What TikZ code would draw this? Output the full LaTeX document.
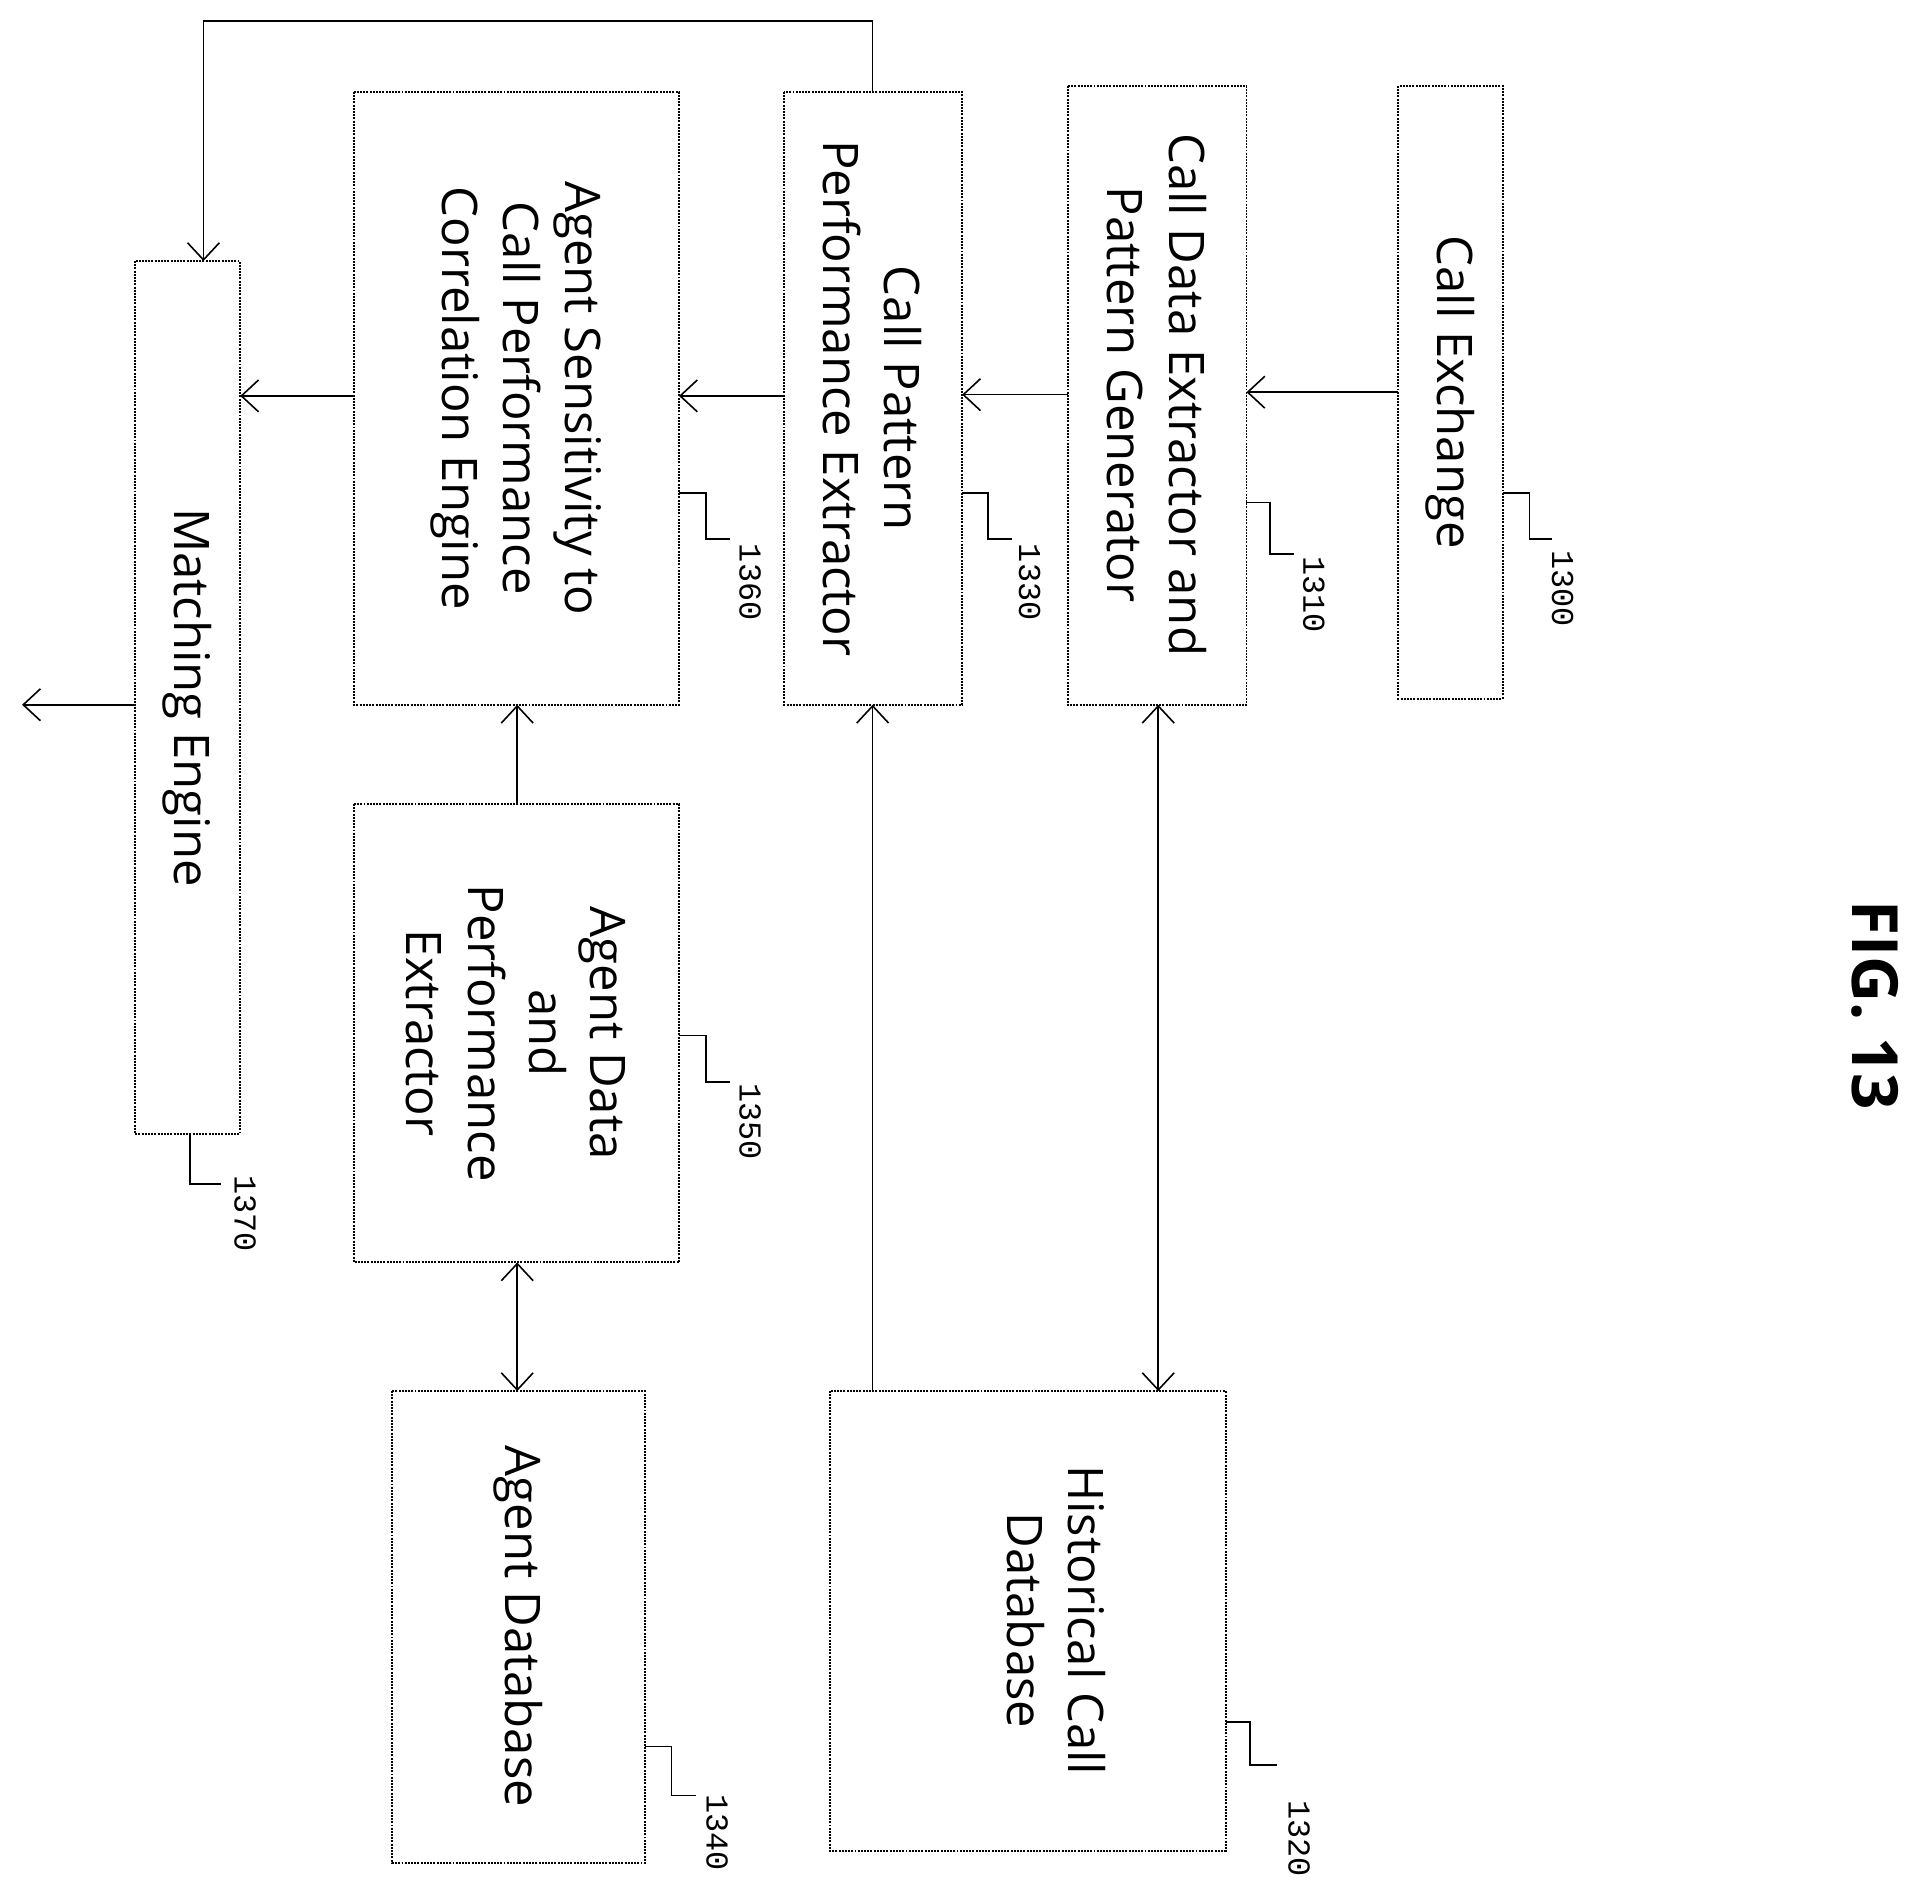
\documentclass[tikz,border=0pt]{standalone}
\usepackage{fontspec}
\setmainfont{Open Sans}
\newfontfamily\numfont{Liberation Mono}
\usetikzlibrary{arrows.meta}
\begin{document}
\begin{tikzpicture}[x=1pt,y=-1pt,
  box/.style={draw,densely dotted,line width=1.6pt},
  txt/.style={rotate=-90,align=center,font=\fontsize{40}{50}\selectfont},
  num/.style={rotate=-90,font=\numfont\fontsize{26}{30}\selectfont},
  ar/.style={line width=1.3pt,-{Straight Barb[length=14pt,width=26pt]}},
  dar/.style={line width=1.3pt,{Straight Barb[length=14pt,width=26pt]}-{Straight Barb[length=14pt,width=26pt]}},
  ld/.style={line width=1.3pt}]
\useasboundingbox (0,0) rectangle (1560,1550);
\draw[box] (1141,70) rectangle (1226,570); \node[txt] (a) at (1183,320) {Call Exchange};
\draw[box] (871,70) rectangle (1017,575); \node[txt] (b) at (944,322) {Call Data Extractor and\\Pattern Generator};
\draw[box] (640,75) rectangle (785,575); \node[txt] (c) at (712,325) {Call Pattern\\Performance Extractor};
\draw[box] (289,75) rectangle (554,575); \node[txt] (d) at (421,325) {Agent Sensitivity to\\Call Performance\\Correlation Engine};
\draw[box] (110,213) rectangle (196,925); \node[txt] (e) at (153,569) {Matching Engine};
\draw[box] (289,656) rectangle (554,1030); \node[txt] (f) at (421,843) {Agent Data\\and\\Performance\\Extractor};
\draw[box] (320,1135) rectangle (526,1520); \node[txt] (g) at (423,1327) {Agent Database};
\draw[box] (677,1135) rectangle (1000,1510); \node[txt] (h) at (862,1322) {Historical Call\\Database};
\node[rotate=-90,font=\bfseries\fontsize{52}{60}\selectfont] (fig) at (1530,820) {FIG. 13};

\coordinate (a1) at (1141,320); \coordinate (b1) at (1017,320);
\coordinate (b2) at (871,322); \coordinate (c1) at (785,322);
\coordinate (c2) at (640,323); \coordinate (d1) at (554,323);
\coordinate (d2) at (289,323); \coordinate (e1) at (196,323);
\coordinate (e2) at (110,575); \coordinate (out) at (18,575);
\coordinate (c3) at (712,75); \coordinate (e3) at (166,213);
\coordinate (f1) at (422,656); \coordinate (d3) at (422,575);
\coordinate (f2) at (422,1030); \coordinate (g1) at (422,1135);
\coordinate (h1) at (712,1135); \coordinate (c4) at (712,575);
\coordinate (b3) at (945,575); \coordinate (h2) at (945,1135);
\draw[ar] (a1) -- (b1); \draw[ar] (b2) -- (c1); \draw[ar] (c2) -- (d1);
\draw[ar] (d2) -- (e1); \draw[ar] (e2) -- (out);
\draw[ar] (c3) -- (712,17) -- (166,17) -- (e3);
\draw[ar] (f1) -- (d3); \draw[dar] (f2) -- (g1);
\draw[ar] (h1) -- (c4); \draw[dar] (b3) -- (h2);

\draw[ld] (1226,402) -- (1248,402) -- (1248,440) -- (1266,440); \node[num] (n0) at (1275,480) {1300};
\draw[ld] (1017,410) -- (1036,410) -- (1036,452) -- (1056,452); \node[num] (n1) at (1072,485) {1310};
\draw[ld] (785,402) -- (806,402) -- (806,440) -- (826,440); \node[num] (n3) at (840,475) {1330};
\draw[ld] (554,402) -- (576,402) -- (576,440) -- (596,440); \node[num] (n6) at (612,475) {1360};
\draw[ld] (554,845) -- (576,845) -- (576,883) -- (596,883); \node[num] (n5) at (612,915) {1350};
\draw[ld] (155,925) -- (155,966) -- (180,966); \node[num] (n7) at (200,990) {1370};
\draw[ld] (526,1425) -- (548,1425) -- (548,1465) -- (568,1465); \node[num] (n4) at (585,1495) {1340};
\draw[ld] (1000,1405) -- (1020,1405) -- (1020,1440) -- (1042,1440); \node[num] (n2) at (1060,1500) {1320};
\end{tikzpicture}
\end{document}
